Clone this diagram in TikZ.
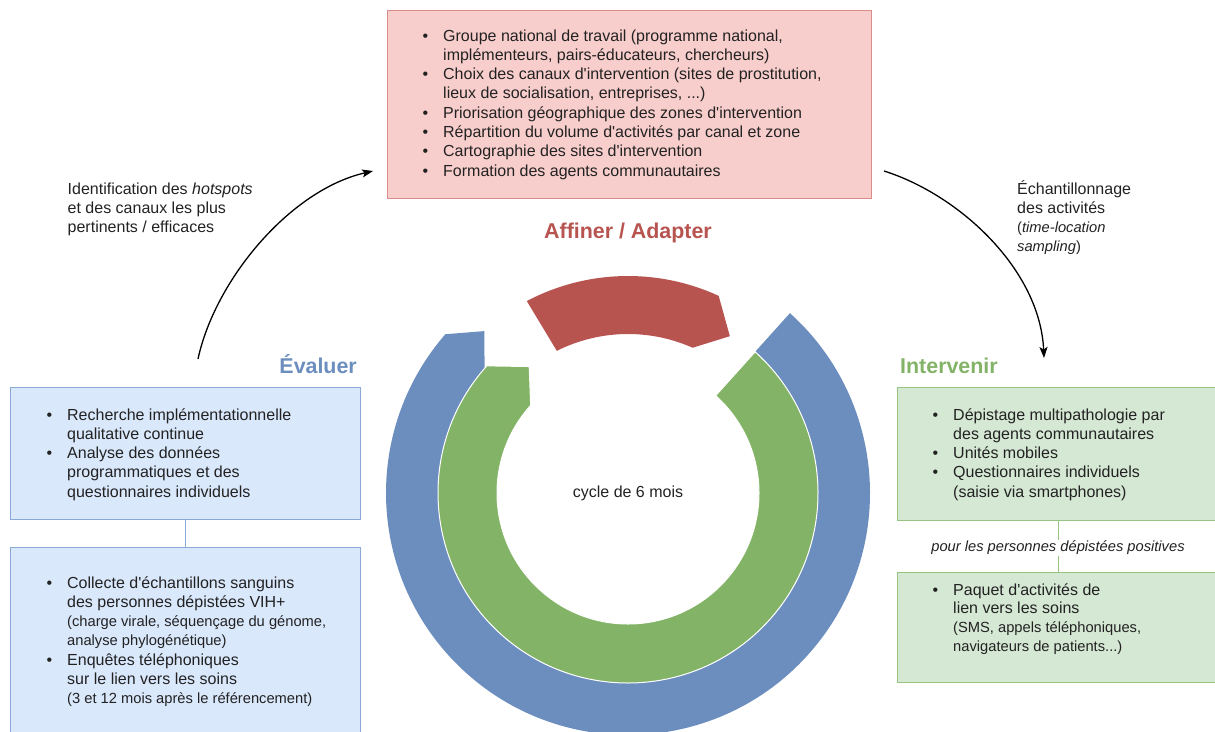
\documentclass[tikz,border=0pt]{standalone}
\usepackage{fontspec}
\newfontfamily\arialfont{Liberation Sans}
\usetikzlibrary{arrows.meta}
\definecolor{ringblue}{HTML}{6C8EBF}
\definecolor{ringgreen}{HTML}{82B366}
\definecolor{ringred}{HTML}{B85450}
\definecolor{bluefill}{HTML}{DAE8FC}
\definecolor{blueline}{HTML}{8AA9D6}
\definecolor{greenfill}{HTML}{D5E8D4}
\definecolor{greenline}{HTML}{97C483}
\definecolor{redfill}{HTML}{F8CECC}
\definecolor{redline}{HTML}{D98C8A}
\definecolor{txtgray}{HTML}{222222}
\newcommand{\fbody}{\arialfont\fontsize{16}{19.3}\selectfont}
\newcommand{\fsmall}{\fontsize{14.7}{19.3}\selectfont}
\newcommand{\ftitle}{\arialfont\bfseries\fontsize{21.4}{25}\selectfont}
\newcommand{\bul}{\llap{•\hspace{15pt}}}
\begin{document}
\begin{tikzpicture}[x=1pt,y=-1pt,
  boxbase/.style={line width=1.2pt, anchor=north west, inner sep=0pt},
  redbox/.style={boxbase, draw=redline, fill=redfill},
  bluebox/.style={boxbase, draw=blueline, fill=bluefill},
  greenbox/.style={boxbase, draw=greenline, fill=greenfill},
  txt/.style={anchor=base west, inner sep=0pt, font=\fbody, text=txtgray},
  title/.style={inner sep=0pt, font=\ftitle},
  arr/.style={line width=1.3pt, -{Stealth[length=11pt,width=8pt,inset=2.5pt]}},
  link/.style={line width=1.2pt}
]
\useasboundingbox (0,0) rectangle (1215,731);
\clip (0,0) rectangle (1215,731);

% boxes
\node[redbox, minimum width=484pt, minimum height=188pt] (aff) at (387,10) {};
\node[bluebox, minimum width=350pt, minimum height=132pt] (ev1) at (10,387) {};
\node[bluebox, minimum width=350pt, minimum height=220pt] (ev2) at (10,547) {};
\node[greenbox, minimum width=322pt, minimum height=133pt] (int1) at (897,387) {};
\node[greenbox, minimum width=322pt, minimum height=110pt] (int2) at (897,572) {};

\draw[link, draw=blueline] (ev1.south) -- (ev2.north);
\draw[link, draw=greenline] (int1.south) -- (int2.north);
\node[fill=white, inner sep=1.5pt, font=\arialfont\itshape\fontsize{14.7}{17}\selectfont, text=txtgray] (pos) at (1058,548) {pour les personnes dépistées positives};

% ring
\begin{scope}[shift={(628,493)}]
  \fill[ringblue] (48:242pt) arc[start angle=48, end angle=-221, radius=242pt]
     -- (-228.4:216.5pt) -- (-221:190pt)
     arc[start angle=-221, end angle=48, radius=190pt] -- cycle;
  \filldraw[fill=ringgreen, draw=white, line width=1pt]
     (48:190pt) arc[start angle=48, end angle=-222, radius=190pt]
     -- (-232:160.5pt) -- (-222:131pt)
     arc[start angle=-222, end angle=48, radius=131pt] -- cycle;
  \fill[ringred] (117.8:217pt) arc[start angle=117.8, end angle=65.3, radius=217pt]
     -- (57:187pt) -- (66:159pt)
     arc[start angle=66, end angle=116.6, radius=159pt] -- cycle;
\end{scope}
\node[txt, anchor=base] (cyc) at (628,497) {cycle de 6 mois};

% titles
\node[title, text=ringred, anchor=base] (tAff) at (628,238) {Affiner / Adapter};
\node[title, text=ringblue, anchor=base east] (tEv) at (357,373) {Évaluer};
\node[title, text=ringgreen, anchor=base west] (tInt) at (900,373) {Intervenir};

% box texts
\node[txt] (xaff) at (443,41) {\begin{tabular}[t]{@{}l@{}}
\bul Groupe national de travail (programme national,\\
implémenteurs, pairs-éducateurs, chercheurs)\\
\bul Choix des canaux d'intervention (sites de prostitution,\\
lieux de socialisation, entreprises, ...)\\
\bul Priorisation géographique des zones d'intervention\\
\bul Répartition du volume d'activités par canal et zone\\
\bul Cartographie des sites d'intervention\\
\bul Formation des agents communautaires
\end{tabular}};

\node[txt] (xev1) at (67,420) {\begin{tabular}[t]{@{}l@{}}
\bul Recherche implémentationnelle\\
qualitative continue\\
\bul Analyse des données\\
programmatiques et des\\
questionnaires individuels
\end{tabular}};

\node[txt] (xev2) at (67,588) {\begin{tabular}[t]{@{}l@{}}
\bul Collecte d'échantillons sanguins\\
des personnes dépistées VIH+\\
{\fsmall (charge virale, séquençage du génome,}\\
{\fsmall analyse phylogénétique)}\\
\bul Enquêtes téléphoniques\\
sur le lien vers les soins\\
{\fsmall (3 et 12 mois après le référencement)}
\end{tabular}};

\node[txt] (xint1) at (953,420) {\begin{tabular}[t]{@{}l@{}}
\bul Dépistage multipathologie par\\
des agents communautaires\\
\bul Unités mobiles\\
\bul Questionnaires individuels\\
(saisie via smartphones)
\end{tabular}};

\node[txt, font=\arialfont\fontsize{16}{18.7}\selectfont] (xint2) at (953,595) {\begin{tabular}[t]{@{}l@{}}
\bul Paquet d'activités de\\
lien vers les soins\\
{\fsmall (SMS, appels téléphoniques,}\\
{\fsmall navigateurs de patients...)}
\end{tabular}};

% arrow labels
\node[txt] (lab1) at (67.5,194) {\begin{tabular}[t]{@{}l@{}}
Identification des \textit{hotspots}\\
et des canaux les plus\\
pertinents / efficaces
\end{tabular}};
\node[txt] (lab2) at (1017,194) {\begin{tabular}[t]{@{}l@{}}
Échantillonnage\\
des activités\\
{\fsmall (\textit{time-location}}\\
{\fsmall \textit{sampling})}
\end{tabular}};

% arrows
\coordinate (a1s) at (198,359);
\coordinate (a1e) at (373,171);
\coordinate (a2s) at (884,171);
\coordinate (a2e) at (1044,358);
\draw[arr] (a1s) .. controls (215,280) and (290,190) .. (a1e);
\draw[arr] (a2s) .. controls (960,195) and (1040,270) .. (a2e);
\end{tikzpicture}
\end{document}
